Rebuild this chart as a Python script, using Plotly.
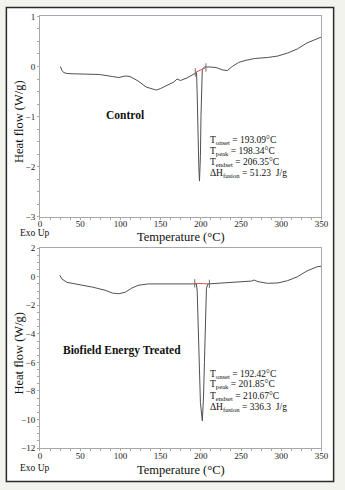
import plotly.graph_objects as go

W, H = 345, 490

# Control sample DSC curve
ctrl_T = [25.4, 27, 29.4, 33.5, 40, 53.6, 73.8, 89.9, 98, 106, 112, 122, 132, 142, 145, 150,
          158, 166.5, 170.5, 174.6, 182.7, 190.7, 193.1, 194.7, 195.4, 196.2, 197.5, 198.34,
          199.5, 200.2, 201.0, 201.8, 203, 204.8, 210.9, 219, 227, 233, 239, 247, 255, 267,
          283, 296, 308, 320, 332, 350]
ctrl_H = [0.0, -0.07, -0.12, -0.14, -0.145, -0.15, -0.16, -0.2, -0.22, -0.19, -0.2, -0.29,
          -0.41, -0.46, -0.47, -0.44, -0.38, -0.31, -0.25, -0.28, -0.23, -0.16, -0.13, -0.12,
          -0.5, -1.3, -2.0, -2.29, -1.8, -1.0, -0.3, -0.08, -0.03, -0.01, -0.01, -0.02, -0.07,
          -0.08, 0.0, 0.08, 0.12, 0.16, 0.18, 0.21, 0.27, 0.35, 0.47, 0.59]

# Biofield Energy Treated sample DSC curve
trt_T = [24.6, 27.4, 33.5, 49.6, 65.7, 81.9, 89.9, 98, 106, 114, 122, 134, 154, 174.6, 192.4,
         194.5, 195.5, 196, 197.6, 199.5, 201.85, 203.3, 204.5, 206, 207, 208.8, 219, 235, 251,
         263, 266.5, 271, 283, 296, 308, 320, 332, 344, 350]
trt_H = [0.11, -0.16, -0.39, -0.55, -0.73, -0.96, -1.14, -1.19, -1.08, -0.8, -0.6, -0.5, -0.5,
         -0.48, -0.46, -0.5, -1.0, -2.0, -6.0, -8.8, -10.1, -8.5, -6.0, -2.0, -0.8, -0.5, -0.46,
         -0.39, -0.34, -0.3, -0.23, -0.34, -0.46, -0.43, -0.27, 0.0, 0.41, 0.69, 0.75]

# Integration baselines (onset -> endset)
ctrl_base_T = [193.09, 206.35]
ctrl_base_H = [-0.12, -0.02]
trt_base_T = [192.42, 210.67]
trt_base_H = [-0.46, -0.5]

ctrl_lines = ["T<sub>onset</sub> = 193.09°C", "T<sub>peak</sub> = 198.34°C",
              "T<sub>endset</sub> = 206.35°C", "ΔH<sub>fusion</sub> = 51.23  J/g"]
trt_lines = ["T<sub>onset</sub> = 192.42°C", "T<sub>peak</sub> = 201.85°C",
             "T<sub>endset</sub> = 210.67°C", "ΔH<sub>fusion</sub> = 336.3  J/g"]

x_ticks = [0, 50, 100, 150, 200, 250, 300, 350]
y1_ticks = [-3, -2, -1, 0, 1]
y2_ticks = [-12, -10, -8, -6, -4, -2, 0, 2]

FONT = "Liberation Serif, Times New Roman, serif"
LINE = "#505050"
AX = "#a8a8a8"


def px(x):
    return x / W


def py(y):
    return 1 - y / H


fig = go.Figure()

fig.add_trace(go.Scatter(x=ctrl_T, y=ctrl_H, mode="lines", line=dict(color=LINE, width=1),
                         xaxis="x", yaxis="y", showlegend=False))
fig.add_trace(go.Scatter(x=ctrl_base_T, y=ctrl_base_H, mode="lines+markers",
                         line=dict(color="#e05050", width=1),
                         marker=dict(symbol="line-ns", size=6, line=dict(color="#707070", width=1)),
                         xaxis="x", yaxis="y", showlegend=False))
fig.add_trace(go.Scatter(x=trt_T, y=trt_H, mode="lines", line=dict(color=LINE, width=1),
                         xaxis="x2", yaxis="y2", showlegend=False))
fig.add_trace(go.Scatter(x=trt_base_T, y=trt_base_H, mode="lines+markers",
                         line=dict(color="#e05050", width=1),
                         marker=dict(symbol="line-ns", size=6, line=dict(color="#707070", width=1)),
                         xaxis="x2", yaxis="y2", showlegend=False))

xdom = [px(39), px(328)]
y1dom = [py(216), py(11.7)]
y2dom = [py(452.3), py(248.3)]

axis_common = dict(showline=True, linecolor=AX, linewidth=1, mirror=True, showgrid=False,
                   zeroline=False, ticks="outside", ticklen=2, tickcolor=AX,
                   tickfont=dict(family=FONT, size=9, color="#222"))


def xax(anchor):
    return dict(domain=xdom, range=[0, 350], tickvals=x_ticks, anchor=anchor,
                ticklabelstandoff=-3,
                minor=dict(dtick=12.5, ticks="outside", ticklen=2, tickcolor=AX),
                **axis_common)


fig.update_layout(
    width=W, height=H, margin=dict(l=0, r=0, t=0, b=0),
    paper_bgcolor="#f3f3ee", plot_bgcolor="white",
    xaxis=xax("y"),
    yaxis=dict(domain=y1dom, range=[-3, 1], tickvals=y1_ticks, anchor="x",
               minor=dict(dtick=0.25, ticks="outside", ticklen=2, tickcolor=AX),
               **axis_common),
    xaxis2=xax("y2"),
    yaxis2=dict(domain=y2dom, range=[-12, 2], tickvals=y2_ticks, anchor="x2",
                minor=dict(dtick=0.5, ticks="outside", ticklen=2, tickcolor=AX),
                **axis_common),
)

# outer white panel with dark frame
fig.add_shape(type="rect", xref="paper", yref="paper", x0=px(4.5), x1=px(340.5),
              y0=py(486.5), y1=py(2.5), line=dict(color="#2a2a2a", width=1.5),
              fillcolor="white", layer="below")

ann = []
for (ycen, xlab_y, exo_y, name, namex, namey, lines, liney) in [
    ((11.7 + 216) / 2, 236.5, 233, "Control", 126.5, 112.7, ctrl_lines, [138.5, 149.5, 160.5, 171.5]),
    ((248.3 + 452.3) / 2, 474.5, 473, "Biofield Energy Treated", 123.5, 352.7, trt_lines,
     [376.7, 387.7, 399.3, 410.7]),
]:
    ann.append(dict(text="Heat flow (W/g)", x=px(18), y=py(ycen + 5), xref="paper", yref="paper",
                    textangle=-90, showarrow=False, xanchor="center", yanchor="middle",
                    font=dict(family=FONT, size=12.5, color="#111")))
    ann.append(dict(text="Temperature (°C)", x=px(183.5), y=py(xlab_y), xref="paper", yref="paper",
                    showarrow=False, xanchor="center", yanchor="middle",
                    font=dict(family=FONT, size=12.5, color="#111")))
    ann.append(dict(text="Exo Up", x=px(16), y=py(exo_y), xref="paper", yref="paper",
                    showarrow=False, xanchor="left", yanchor="middle",
                    font=dict(family=FONT, size=9.5, color="#111")))
    ann.append(dict(text="<b>" + name + "</b>", x=px(namex), y=py(namey), xref="paper", yref="paper",
                    showarrow=False, xanchor="center", yanchor="middle",
                    font=dict(family=FONT, size=11.5, color="#111")))
    for t, yy in zip(lines, liney):
        ann.append(dict(text=t, x=px(212), y=py(yy), xref="paper", yref="paper",
                        showarrow=False, xanchor="left", yanchor="middle",
                        font=dict(family=FONT, size=9.5, color="#111")))

fig.update_layout(annotations=ann)

fig.write_html("out.html")
